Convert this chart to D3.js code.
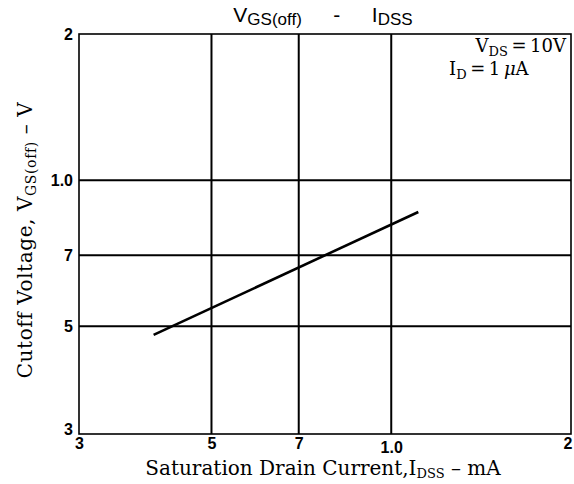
<!DOCTYPE html>
<html><head><meta charset="utf-8">
<script src="https://cdn.jsdelivr.net/npm/d3@7"></script>
<style>body{margin:0;background:#fff}</style>
</head><body>
<svg id="c" width="574" height="484"></svg>
<script>
// Data (I_DSS in mA, V_GS(off) in V)
const idss = [0.40, 1.11];
const vgsoff = [0.48, 0.86];
const xTicks = [0.3, 0.5, 0.7, 1.0, 2];
const xTickLabels = ["3", "5", "7", "1.0", "2"];
const yTicks = [0.3, 0.5, 0.7, 1.0, 2];
const yTickLabels = ["3", "5", "7", "1.0", "2"];

const L = 79, R = 571, T = 34, B = 434;
const svg = d3.select("#c");
const x = d3.scaleLog().domain([0.3, 2]).range([L, R]);
const y = d3.scaleLog().domain([0.3, 2]).range([B, T]);

// grid
const g = svg.append("g");
g.selectAll("line.vx").data(xTicks.slice(1, -1)).join("line")
  .attr("x1", d => x(d)).attr("x2", d => x(d)).attr("y1", T).attr("y2", B)
  .attr("stroke", "#000").attr("stroke-width", 2);
g.selectAll("line.hy").data(yTicks.slice(1, -1)).join("line")
  .attr("y1", d => y(d)).attr("y2", d => y(d)).attr("x1", L).attr("x2", R)
  .attr("stroke", "#000").attr("stroke-width", 2);
svg.append("rect").attr("x", L).attr("y", T).attr("width", R - L).attr("height", B - T)
  .attr("fill", "none").attr("stroke", "#000").attr("stroke-width", 1.6);

const tickFont = "Liberation Sans Narrow, Liberation Sans, Arial, sans-serif";
// axes labels via d3 axis
const xAxis = d3.axisBottom(x).tickValues(xTicks).tickFormat((d, i) => xTickLabels[i]).tickSize(0).tickPadding(3);
const gx = svg.append("g").attr("transform", `translate(0,${B})`).call(xAxis);
gx.select(".domain").remove();
gx.selectAll("text").attr("font-family", tickFont).attr("font-weight", "bold")
  .attr("font-size", 16).attr("fill", "#000")
  .attr("text-anchor", d => d === 2 ? "end" : "middle")
  .attr("dx", d => d === 2 ? 1 : 0)
  .attr("dy", (d) => d === 1.0 ? "1.0em" : "0.72em");
const yAxis = d3.axisLeft(y).tickValues(yTicks).tickFormat((d, i) => yTickLabels[i]).tickSize(0).tickPadding(6);
const gy = svg.append("g").attr("transform", `translate(${L},0)`).call(yAxis);
gy.select(".domain").remove();
gy.selectAll("text").attr("font-family", tickFont).attr("font-weight", "bold")
  .attr("font-size", 16).attr("fill", "#000")
  .attr("dy", d => d === 0.3 ? "0.05em" : "0.32em");

// data line
const line = d3.line().x(d => x(d[0])).y(d => y(d[1]));
svg.append("path").datum(idss.map((v, i) => [v, vgsoff[i]]))
  .attr("d", line).attr("fill", "none").attr("stroke", "#000").attr("stroke-width", 2.6);

// title
const title = svg.append("text").attr("x", 323).attr("y", 22).attr("text-anchor", "middle")
  .attr("font-family", "Liberation Sans, Arial, sans-serif").attr("font-size", 21).attr("fill", "#000");
title.append("tspan").text("V");
title.append("tspan").attr("font-size", 17).attr("dy", 3).text("GS(off)");
title.append("tspan").attr("dy", -3).text("\u2003\u2002-\u2003\u2002I");
title.append("tspan").attr("font-size", 17).attr("dy", 3).text("DSS");

// condition text
const serif = "DejaVu Serif, Liberation Serif, serif";
const c1 = svg.append("text").attr("x", 566).attr("y", 52).attr("text-anchor", "end")
  .attr("font-family", serif).attr("font-size", 18).attr("fill", "#000");
c1.append("tspan").text("V");
c1.append("tspan").attr("font-size", 13).attr("dy", 4).text("DS");
c1.append("tspan").attr("dy", -4).text("\u2009=\u200910V");
const c2 = svg.append("text").attr("x", 449).attr("y", 75).attr("text-anchor", "start")
  .attr("font-family", serif).attr("font-size", 18).attr("fill", "#000");
c2.append("tspan").text("I");
c2.append("tspan").attr("font-size", 13).attr("dy", 4).text("D");
c2.append("tspan").attr("dy", -4).text("\u2009=\u20091\u2009");
c2.append("tspan").attr("font-style", "italic").text("\u03BC");
c2.append("tspan").text("A");

// x axis title
const xt = svg.append("text").attr("x", 323).attr("y", 475).attr("text-anchor", "middle")
  .attr("font-family", serif).attr("font-size", 20).attr("fill", "#000");
xt.append("tspan").text("Saturation Drain Current,I");
xt.append("tspan").attr("font-size", 13).attr("dy", 3).text("DSS");
xt.append("tspan").attr("dy", -3).text(" \u2013 mA");

// y axis title
const yt = svg.append("text").attr("transform", "translate(32,240) rotate(-90)").attr("text-anchor", "middle")
  .attr("font-family", serif).attr("font-size", 20).attr("letter-spacing", 0.6).attr("fill", "#000");
yt.append("tspan").text("Cutoff Voltage, V");
yt.append("tspan").attr("font-size", 14).attr("dy", 4).text("GS(off)");
yt.append("tspan").attr("dy", -4).text(" \u2013 V");
</script>
</body></html>
